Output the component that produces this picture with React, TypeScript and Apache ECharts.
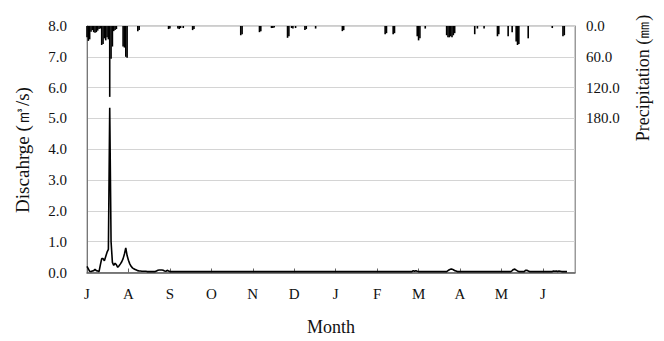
import React, { useEffect, useRef } from "react";
import * as echarts from "echarts";

const monthLabels = ["J", "A", "S", "O", "N", "D", "J", "F", "M", "A", "M", "J"];

// Daily discharge (m3/s), day 0 = 1 July
const discharge = [
  0.20, 0.12, 0.04, 0.03, 0.05, 0.06, 0.10, 0.06, 0.05, 0.03, 0.25, 0.45, 0.45, 0.38, 0.52, 0.66, 0.75, 5.35, 1.00, 0.33,
  0.23, 0.30, 0.25, 0.17, 0.22, 0.28, 0.35, 0.45, 0.60, 0.80, 0.55, 0.40, 0.28, 0.20, 0.15, 0.12, 0.10, 0.08, 0.06, 0.05,
  0.05, 0.04, 0.04, 0.04, 0.04, 0.03, 0.03, 0.03, 0.03, 0.03, 0.03, 0.03, 0.05, 0.07, 0.08, 0.08, 0.08, 0.07, 0.05, 0.04,
  0.07, 0.05, 0.03, 0.03, 0.03, 0.03, 0.03, 0.03, 0.03, 0.03, 0.03, 0.03, 0.03, 0.03, 0.03, 0.03, 0.03, 0.03, 0.03, 0.03,
  0.03, 0.03, 0.03, 0.03, 0.03, 0.03, 0.03, 0.03, 0.03, 0.03, 0.03, 0.03, 0.03, 0.03, 0.03, 0.03, 0.03, 0.03, 0.03, 0.03,
  0.03, 0.03, 0.03, 0.03, 0.03, 0.03, 0.03, 0.03, 0.03, 0.03, 0.03, 0.03, 0.03, 0.03, 0.03, 0.03, 0.03, 0.03, 0.03, 0.03,
  0.03, 0.03, 0.03, 0.03, 0.03, 0.03, 0.03, 0.03, 0.03, 0.03, 0.03, 0.03, 0.03, 0.03, 0.03, 0.03, 0.03, 0.03, 0.03, 0.03,
  0.03, 0.03, 0.03, 0.03, 0.03, 0.03, 0.03, 0.03, 0.03, 0.03, 0.03, 0.03, 0.03, 0.03, 0.03, 0.03, 0.03, 0.03, 0.03, 0.03,
  0.03, 0.03, 0.03, 0.03, 0.03, 0.03, 0.03, 0.03, 0.03, 0.03, 0.03, 0.03, 0.03, 0.03, 0.03, 0.03, 0.03, 0.03, 0.03, 0.03,
  0.03, 0.03, 0.03, 0.03, 0.03, 0.03, 0.03, 0.03, 0.03, 0.03, 0.03, 0.03, 0.03, 0.03, 0.03, 0.03, 0.03, 0.03, 0.03, 0.03,
  0.03, 0.03, 0.03, 0.03, 0.03, 0.03, 0.03, 0.03, 0.03, 0.03, 0.03, 0.03, 0.03, 0.03, 0.03, 0.03, 0.03, 0.03, 0.03, 0.03,
  0.03, 0.03, 0.03, 0.03, 0.03, 0.03, 0.03, 0.03, 0.03, 0.03, 0.03, 0.03, 0.03, 0.03, 0.03, 0.03, 0.03, 0.03, 0.03, 0.03,
  0.03, 0.03, 0.03, 0.03, 0.06, 0.04, 0.06, 0.04, 0.03, 0.03, 0.03, 0.03, 0.03, 0.03, 0.03, 0.03, 0.03, 0.03, 0.03, 0.03,
  0.03, 0.03, 0.03, 0.03, 0.03, 0.03, 0.03, 0.03, 0.03, 0.03, 0.06, 0.09, 0.11, 0.11, 0.09, 0.06, 0.05, 0.03, 0.03, 0.03,
  0.03, 0.03, 0.03, 0.03, 0.03, 0.03, 0.03, 0.03, 0.03, 0.03, 0.03, 0.03, 0.03, 0.03, 0.03, 0.03, 0.03, 0.03, 0.03, 0.03,
  0.03, 0.03, 0.03, 0.03, 0.03, 0.03, 0.03, 0.03, 0.03, 0.03, 0.03, 0.03, 0.03, 0.03, 0.03, 0.03, 0.03, 0.03, 0.06, 0.10,
  0.11, 0.08, 0.05, 0.03, 0.03, 0.03, 0.03, 0.03, 0.07, 0.07, 0.05, 0.03, 0.03, 0.03, 0.03, 0.03, 0.03, 0.03, 0.03, 0.03,
  0.03, 0.03, 0.03, 0.03, 0.03, 0.03, 0.03, 0.03, 0.03, 0.05, 0.04, 0.05, 0.03, 0.05, 0.04, 0.03, 0.03, 0.03, 0.03, 0.03,
];

// Rainy days (day index from 1 July) and daily precipitation (mm)
const rainDays = [
  0, 1, 2, 3, 4, 5, 6, 7, 8, 9, 10, 11, 12, 13, 14, 15, 16, 17, 18, 19, 20, 21, 22,
  27, 28, 29, 30, 38, 39, 61, 62, 68, 69, 70, 72, 79, 80, 115, 116, 129, 130, 138, 139, 140,
  150, 151, 153, 154, 156, 163, 164, 171, 191, 192, 223, 224, 229, 230, 247, 248, 249, 253,
  269, 270, 271, 272, 273, 274, 275, 290, 292, 297, 307, 308, 315, 318, 321, 322, 323, 330,
  348, 356, 357,
];
const rainMm = [
  22, 29, 26, 11, 8, 12, 13, 12, 9, 6, 5, 37, 35, 24, 28, 22, 26, 138, 64, 40, 10, 8, 6,
  40, 42, 60, 62, 10, 8, 6, 5, 5, 6, 4, 4, 8, 6, 18, 16, 12, 10, 4, 4, 3,
  23, 20, 4, 5, 4, 8, 6, 5, 10, 8, 16, 14, 16, 14, 20, 28, 24, 5,
  18, 22, 22, 20, 22, 18, 14, 16, 5, 5, 20, 16, 20, 12, 30, 37, 35, 24,
  4, 20, 18,
];

const leftTicks = [0, 1, 2, 3, 4, 5, 6, 7, 8];
const rightTicks = [0, 60, 120, 180];

const FONT = "'Liberation Serif', 'Times New Roman', serif";

export default function App() {
  const ref = useRef<HTMLDivElement>(null);
  useEffect(() => {
    if (!ref.current) return;
    const chart = echarts.init(ref.current, null, { renderer: "svg" });
    const lineData = discharge.map((v, i) => [i, v]);
    const barData = rainDays.map((d, i) => [d, rainMm[i]]);
    chart.setOption({
      animation: false,
      textStyle: { fontFamily: FONT },
      grid: {
        left: 87,
        right: 89,
        top: 26,
        bottom: 68.5,
        show: true,
        borderColor: "#9a9a9a",
        borderWidth: 1,
      },
      xAxis: {
        type: "value",
        min: 0,
        max: 365,
        interval: 31,
        axisLine: { show: true, onZero: false, lineStyle: { color: "#555", width: 1.5 } },
        axisTick: { show: true, inside: true, length: 4, lineStyle: { color: "#666" } },
        splitLine: { show: false },
        axisLabel: {
          fontFamily: FONT,
          fontSize: 15,
          color: "#111",
          margin: 14,
          showMaxLabel: false,
          formatter: (v: number) => {
            const k = Math.round(v / 31);
            return Math.abs(v - k * 31) < 0.01 && k < monthLabels.length ? monthLabels[k] : "";
          },
        },
      },
      yAxis: [
        {
          type: "value",
          min: leftTicks[0],
          max: leftTicks[leftTicks.length - 1],
          interval: 1,
          axisLine: { show: true, lineStyle: { color: "#777" } },
          axisTick: { show: false },
          splitLine: { show: true, lineStyle: { color: "#d4d4d4", width: 1 } },
          axisLabel: {
            fontFamily: FONT,
            fontSize: 15,
            color: "#111",
            margin: 20,
            formatter: (v: number) => v.toFixed(1),
          },
        },
        {
          type: "value",
          position: "right",
          inverse: true,
          min: 0,
          max: 480,
          interval: 60,
          axisLine: { show: true, lineStyle: { color: "#9a9a9a" } },
          axisTick: { show: false },
          splitLine: { show: false },
          axisLabel: {
            fontFamily: FONT,
            fontSize: 15,
            color: "#111",
            margin: 11,
            formatter: (v: number) =>
              rightTicks.indexOf(v) >= 0 ? v.toFixed(1) : "",
          },
        },
      ],
      series: [
        {
          type: "bar",
          yAxisIndex: 1,
          data: barData,
          barWidth: 1.6,
          itemStyle: { color: "#000" },
          silent: true,
        },
        {
          type: "line",
          yAxisIndex: 0,
          data: lineData,
          showSymbol: false,
          symbol: "none",
          lineStyle: { color: "#000", width: 1.6 },
          silent: true,
        },
      ],
      graphic: [
        {
          type: "text",
          x: 22,
          y: 150,
          rotation: Math.PI / 2,
          style: {
            text: "Discahrge (㎥/s)",
            font: `19px ${FONT}`,
            fill: "#111",
            textAlign: "center",
            textVerticalAlign: "middle",
          },
        },
        {
          type: "text",
          x: 643,
          y: 78,
          rotation: Math.PI / 2,
          style: {
            text: "Precipitation (㎜)",
            font: `18px ${FONT}`,
            fill: "#111",
            textAlign: "center",
            textVerticalAlign: "middle",
          },
        },
        {
          type: "text",
          x: 331,
          y: 327,
          style: {
            text: "Month",
            font: `18px ${FONT}`,
            fill: "#111",
            textAlign: "center",
            textVerticalAlign: "middle",
          },
        },
      ],
    });
    return () => chart.dispose();
  }, []);
  return (
    <div
      ref={ref}
      style={{ position: "absolute", left: 0, top: 0, width: 664, height: 341 }}
    />
  );
}
